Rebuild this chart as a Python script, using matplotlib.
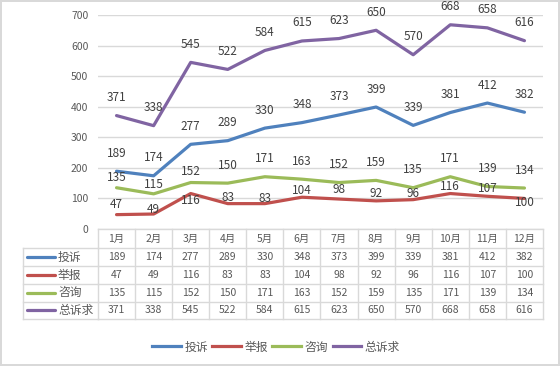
import matplotlib.pyplot as plt
from matplotlib.transforms import blended_transform_factory
from matplotlib.lines import Line2D

plt.rcParams['font.family'] = ['Noto Sans CJK SC', 'DejaVu Sans']

# data
months = ['1月', '2月', '3月', '4月', '5月', '6月', '7月', '8月', '9月', '10月', '11月', '12月']
complaint = [189, 174, 277, 289, 330, 348, 373, 399, 339, 381, 412, 382]
report = [47, 49, 116, 83, 83, 104, 98, 92, 96, 116, 107, 100]
consult = [135, 115, 152, 150, 171, 163, 152, 159, 135, 171, 139, 134]
total = [371, 338, 545, 522, 584, 615, 623, 650, 570, 668, 658, 616]

series = [('投诉', complaint, '#4F81BD'),
          ('举报', report, '#C0504D'),
          ('咨询', consult, '#9BBB59'),
          ('总诉求', total, '#8064A2')]

# label offsets above the point (pixels); a few labels were moved by hand
label_px = {
    '举报': [10, 5, -7, 6, 5, 7, 10, 7, 6, 7, 8, -4],
    '咨询': [10, 9, 11] + [18] * 9,
}

W, H = 560, 366
fig = plt.figure(figsize=(W / 100, H / 100), dpi=100)
fig.patch.set_edgecolor('#D9D9D9')
fig.patch.set_linewidth(1.5)

ax = fig.add_axes([98 / W, 1 - 229 / H, (543 - 98) / W, (229 - 15) / H])
x = list(range(len(months)))
txt = '#404040'
grid = '#D9D9D9'

for name, vals, col in series:
    ax.plot(x, vals, color=col, lw=2.3, solid_capstyle='round', zorder=3)
    offs = label_px.get(name, [18] * len(vals))
    for xi, v, o in zip(x, vals, offs):
        ax.annotate(str(v), (xi, v), xytext=(0, o * 0.72), textcoords='offset points',
                    ha='center', va='center', fontsize=8.5, color=txt, zorder=4)

ax.set_xlim(-0.5, len(months) - 0.5)
ax.set_ylim(0, 700)
ax.set_yticks(range(0, 701, 100))
ax.yaxis.grid(True, color=grid, lw=1)
ax.set_axisbelow(True)
ax.set_xticks([])
for s in ax.spines.values():
    s.set_visible(False)
ax.tick_params(axis='y', length=0, pad=7, labelsize=7.5, labelcolor='#595959')

# data table under the plot
tr = blended_transform_factory(ax.transData, fig.transFigure)
tf = fig.transFigure
rows = [229, 248, 266, 284, 301.5, 319]
def fy(p):
    return 1 - p / H

ax.plot([-0.5, 11.5], [fy(rows[0])] * 2, transform=tr, color=grid, lw=1, clip_on=False)
for r in rows[1:]:
    ax.plot([23 / W, 98 / W], [fy(r)] * 2, transform=tf, color=grid, lw=1, clip_on=False)
    ax.plot([-0.5, 11.5], [fy(r)] * 2, transform=tr, color=grid, lw=1, clip_on=False)
for i in range(len(months) + 1):
    ax.plot([i - 0.5] * 2, [fy(rows[0]), fy(rows[-1])], transform=tr, color=grid, lw=1,
            clip_on=False)
ax.plot([23 / W] * 2, [fy(rows[1]), fy(rows[-1])], transform=tf, color=grid, lw=1,
        clip_on=False)

for xi, m in zip(x, months):
    ax.text(xi, fy((rows[0] + rows[1]) / 2), m, transform=tr, ha='center', va='center',
            fontsize=7.5, color='#595959')
for k, (name, vals, col) in enumerate(series):
    yc = fy((rows[k + 1] + rows[k + 2]) / 2)
    ax.plot([27 / W, 55 / W], [yc, yc], transform=tf, color=col, lw=2.3, clip_on=False,
            solid_capstyle='round')
    ax.text(58 / W, yc, name, transform=tf, ha='left', va='center', fontsize=8.5,
            color='#595959')
    for xi, v in zip(x, vals):
        ax.text(xi, yc, str(v), transform=tr, ha='center', va='center', fontsize=7.5,
                color='#595959')

handles = [Line2D([], [], color=c, lw=2.3) for _, _, c in series]
fig.legend(handles, [n for n, _, _ in series], loc='center', ncol=4,
           bbox_to_anchor=(276 / W, fy(347)), frameon=False, fontsize=8.5,
           handlelength=2.4, handletextpad=0.3, columnspacing=0.4,
           labelcolor='#595959')

fig.savefig('out.png', dpi=100)
